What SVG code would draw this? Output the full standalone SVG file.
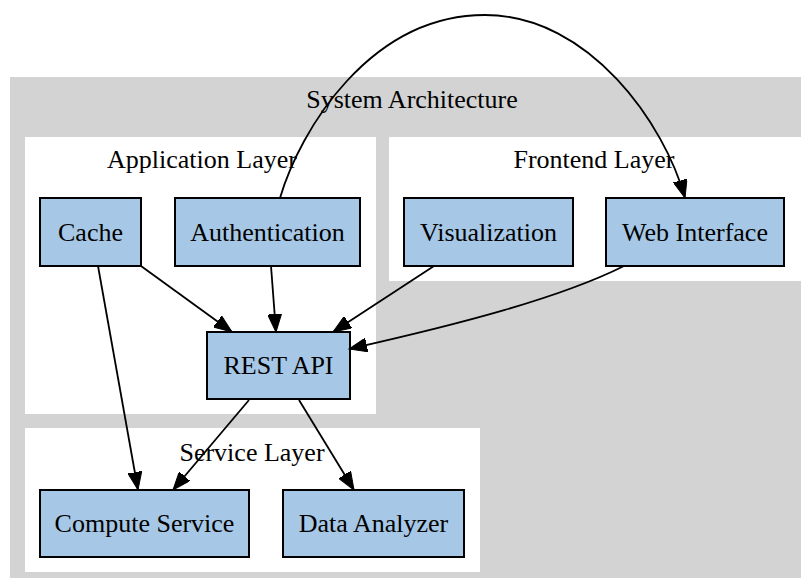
<svg xmlns="http://www.w3.org/2000/svg" width="801" height="578" viewBox="0 0 801 578">
  <style>
    .cluster-outer { fill: #d3d3d3; stroke: none; }
    .cluster { fill: #ffffff; stroke: none; }
    .node rect { fill: #a6c8e6; stroke: #000000; stroke-width: 2; }
    text { font-family: "Liberation Serif", "Times New Roman", serif; font-size: 26px; fill: #000000; text-anchor: middle; }
    .edge { fill: none; stroke: #000000; stroke-width: 1.8; marker-end: url(#arrow); }
  </style>
  <defs>
    <marker id="arrow" markerUnits="userSpaceOnUse" markerWidth="20" markerHeight="14" refX="18" refY="7" orient="auto">
      <path d="M0,0 L18,7 L0,14 Z" fill="#000000" stroke="#000000" stroke-width="1"/>
    </marker>
  </defs>

  <rect width="801" height="578" fill="#ffffff"/>

  <!-- clusters -->
  <g id="cluster-system">
    <rect class="cluster-outer" x="10" y="77" width="800" height="510"/>
    <text x="412" y="108">System Architecture</text>
  </g>
  <g id="cluster-application">
    <rect class="cluster" x="25" y="137" width="351" height="277"/>
    <text x="202" y="168">Application Layer</text>
  </g>
  <g id="cluster-frontend">
    <rect class="cluster" x="389" y="137" width="420" height="144"/>
    <text x="594" y="168">Frontend Layer</text>
  </g>
  <g id="cluster-service">
    <rect class="cluster" x="25" y="428" width="455" height="144"/>
    <text x="252" y="461">Service Layer</text>
  </g>

  <!-- nodes -->
  <g id="cache" class="node">
    <rect x="40" y="198" width="101" height="68"/>
    <text x="90.5" y="241">Cache</text>
  </g>
  <g id="authentication" class="node">
    <rect x="175" y="198" width="185" height="68"/>
    <text x="267.5" y="241">Authentication</text>
  </g>
  <g id="visualization" class="node">
    <rect x="404" y="198" width="169" height="68"/>
    <text x="488.5" y="241">Visualization</text>
  </g>
  <g id="web-interface" class="node">
    <rect x="606" y="198" width="178" height="68"/>
    <text x="695" y="241">Web Interface</text>
  </g>
  <g id="rest-api" class="node">
    <rect x="207" y="332" width="143" height="67"/>
    <text x="278.5" y="374">REST API</text>
  </g>
  <g id="compute-service" class="node">
    <rect x="40" y="490" width="209" height="67"/>
    <text x="144.5" y="532">Compute Service</text>
  </g>
  <g id="data-analyzer" class="node">
    <rect x="283" y="490" width="181" height="67"/>
    <text x="373.5" y="532">Data Analyzer</text>
  </g>

  <!-- connectors -->
  <g id="edges">
    <path class="edge" d="M141,266 L232,332"/>
    <path class="edge" d="M271,266 L276,332"/>
    <path class="edge" d="M434,266 L333,332"/>
    <path class="edge" d="M624,266 C560,298 460,324 349,349"/>
    <path class="edge" d="M98,266 L138,490"/>
    <path class="edge" d="M249,400 L173,490"/>
    <path class="edge" d="M299,400 L354,490"/>
    <path class="edge" d="M280,198 C300,130 370,15 485,15 C590,15 665,125 685,198"/>
  </g>
</svg>
